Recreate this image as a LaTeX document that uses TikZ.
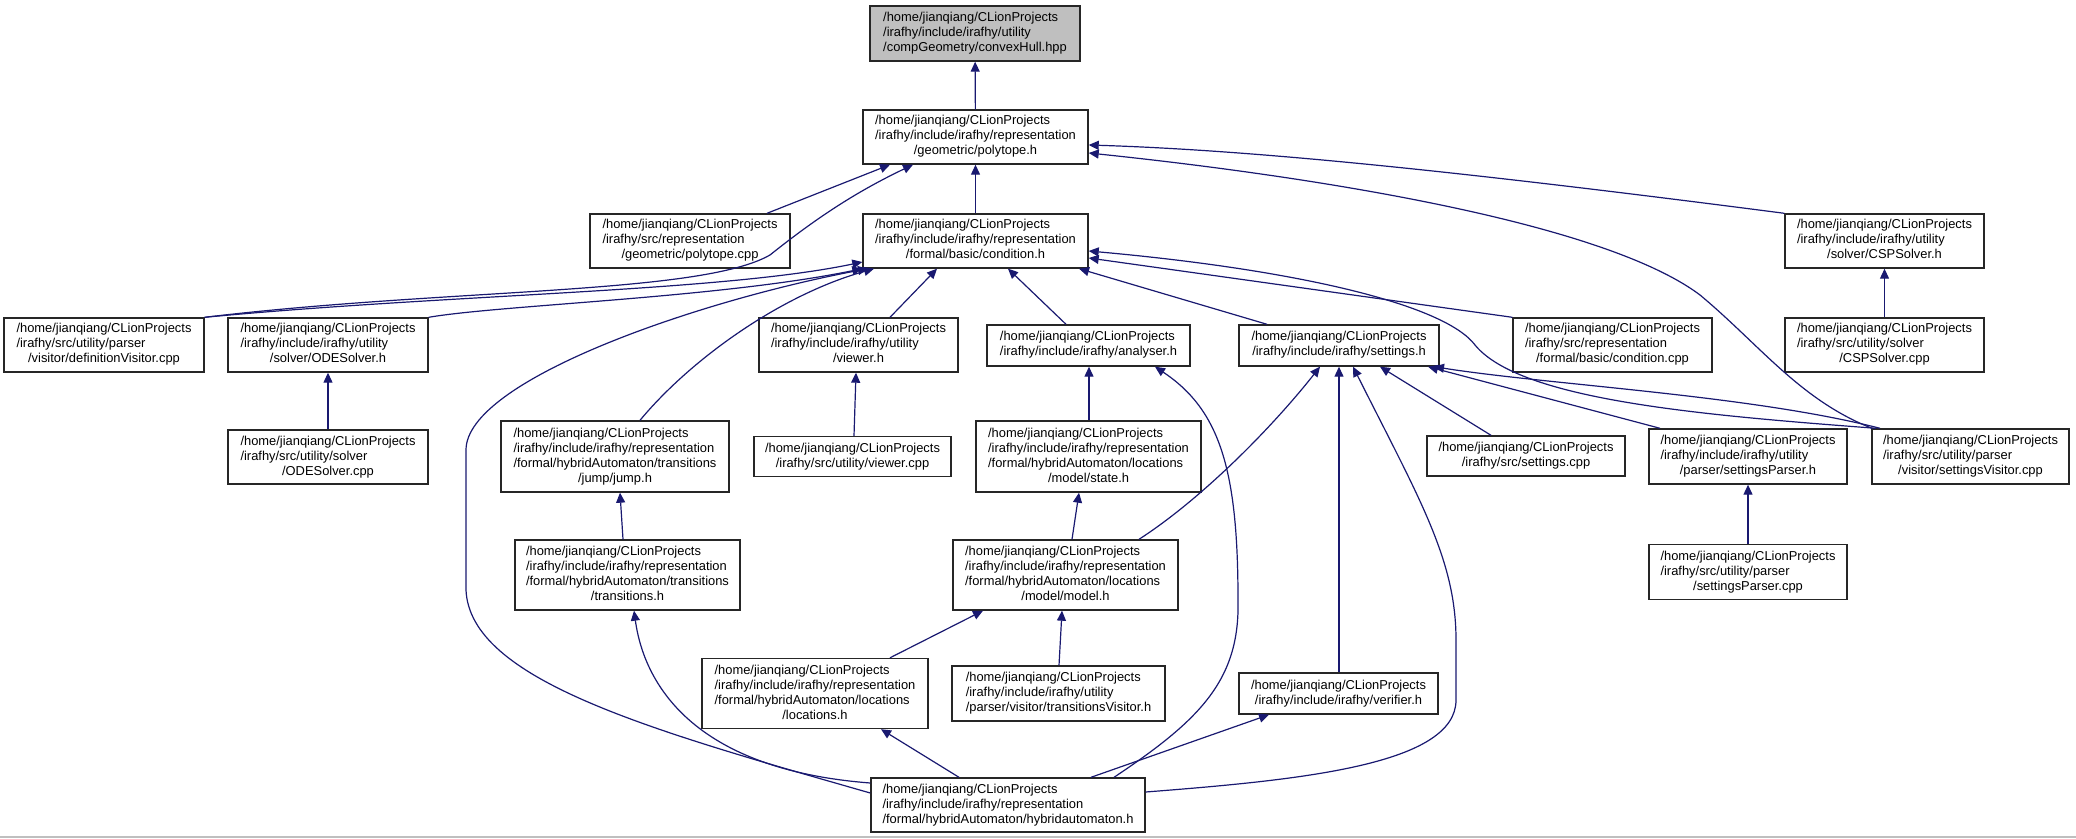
\documentclass[tikz,border=0pt]{standalone}
\usepackage{fontspec}
\setmainfont{Liberation Sans}
\usetikzlibrary{arrows.meta,positioning}

\definecolor{depblue}{RGB}{25,25,112}
\newcommand{\fpath}[2]{\begin{tabular}{@{}l@{}}#1\\\multicolumn{1}{@{}c@{}}{#2}\end{tabular}}

\begin{document}
\begin{tikzpicture}[
    x=0.5pt, y=-0.5pt,
    file/.style={draw=black!85, fill=white, rectangle, line width=0.7pt, inner sep=0pt,
        minimum width=100pt, minimum height=27pt, font=\fontsize{6.45}{7.5}\selectfont},
    sz/.style 2 args={minimum width=#1*0.5pt, minimum height=#2*0.5pt},
    dep/.style={{Triangle[length=5pt,width=4.5pt]}-, draw=depblue, line width=0.6pt}
]
\useasboundingbox (0,0) rectangle (2076,839);

% Included file
\node[file, sz={210}{55}, fill=black!25] (hull) at (975,33.5) {\fpath{/home/jianqiang/CLionProjects\\/irafhy/include/irafhy/utility}{/compGeometry/convexHull.hpp}};

% Row 1
\node[file, sz={225}{54}] (polyh) at (975.5,137) {\fpath{/home/jianqiang/CLionProjects\\/irafhy/include/irafhy/representation}{/geometric/polytope.h}};

% Row 2
\node[file] (polycpp) at (690,241) {\fpath{/home/jianqiang/CLionProjects\\/irafhy/src/representation}{/geometric/polytope.cpp}};
\node[file, sz={225}{54}] (condh) at (975.5,241) {\fpath{/home/jianqiang/CLionProjects\\/irafhy/include/irafhy/representation}{/formal/basic/condition.h}};
\node[file, sz={199}{54}] (cspH) at (1884.5,241) {\fpath{/home/jianqiang/CLionProjects\\/irafhy/include/irafhy/utility}{/solver/CSPSolver.h}};

% Row 3
\node[file] (defvis) at (104,345) {\fpath{/home/jianqiang/CLionProjects\\/irafhy/src/utility/parser}{/visitor/definitionVisitor.cpp}};
\node[file] (odeH) at (328,345) {\fpath{/home/jianqiang/CLionProjects\\/irafhy/include/irafhy/utility}{/solver/ODESolver.h}};
\node[file, sz={199}{54}] (viewH) at (858.5,345) {\fpath{/home/jianqiang/CLionProjects\\/irafhy/include/irafhy/utility}{/viewer.h}};
\node[file, sz={203}{41}] (analyser) at (1088.5,345.5) {\fpath{/home/jianqiang/CLionProjects}{/irafhy/include/irafhy/analyser.h}};
\node[file, sz={200}{41}] (setH) at (1339,345.5) {\fpath{/home/jianqiang/CLionProjects}{/irafhy/include/irafhy/settings.h}};
\node[file, sz={199}{54}] (condcpp) at (1612.5,345) {\fpath{/home/jianqiang/CLionProjects\\/irafhy/src/representation}{/formal/basic/condition.cpp}};
\node[file, sz={199}{54}] (cspcpp) at (1884.5,345) {\fpath{/home/jianqiang/CLionProjects\\/irafhy/src/utility/solver}{/CSPSolver.cpp}};

% Row 4
\node[file] (odecpp) at (328,457) {\fpath{/home/jianqiang/CLionProjects\\/irafhy/src/utility/solver}{/ODESolver.cpp}};
\node[file, sz={228}{71}] (jump) at (615,456.5) {\fpath{/home/jianqiang/CLionProjects\\/irafhy/include/irafhy/representation\\/formal/hybridAutomaton/transitions}{/jump/jump.h}};
\node[file, sz={197}{40}] (viewcpp) at (852.5,456.5) {\fpath{/home/jianqiang/CLionProjects}{/irafhy/src/utility/viewer.cpp}};
\node[file, sz={225}{71}] (state) at (1088.5,456.5) {\fpath{/home/jianqiang/CLionProjects\\/irafhy/include/irafhy/representation\\/formal/hybridAutomaton/locations}{/model/state.h}};
\node[file, sz={198}{40}] (setcpp) at (1526,456) {\fpath{/home/jianqiang/CLionProjects}{/irafhy/src/settings.cpp}};
\node[file, sz={198}{55}] (sparserH) at (1748,456.5) {\fpath{/home/jianqiang/CLionProjects\\/irafhy/include/irafhy/utility}{/parser/settingsParser.h}};
\node[file, sz={197}{55}] (svis) at (1970.5,456.5) {\fpath{/home/jianqiang/CLionProjects\\/irafhy/src/utility/parser}{/visitor/settingsVisitor.cpp}};

% Row 5
\node[file, sz={225}{70}] (trans) at (627.5,575) {\fpath{/home/jianqiang/CLionProjects\\/irafhy/include/irafhy/representation\\/formal/hybridAutomaton/transitions}{/transitions.h}};
\node[file, sz={225}{70}] (model) at (1065.5,575) {\fpath{/home/jianqiang/CLionProjects\\/irafhy/include/irafhy/representation\\/formal/hybridAutomaton/locations}{/model/model.h}};
\node[file, sz={198}{55}] (sparsercpp) at (1748,572) {\fpath{/home/jianqiang/CLionProjects\\/irafhy/src/utility/parser}{/settingsParser.cpp}};

% Row 6
\node[file, sz={226}{70}] (locs) at (815,693.5) {\fpath{/home/jianqiang/CLionProjects\\/irafhy/include/irafhy/representation\\/formal/hybridAutomaton/locations}{/locations.h}};
\node[file, sz={213}{55}] (tvis) at (1058.5,693.5) {\fpath{/home/jianqiang/CLionProjects\\/irafhy/include/irafhy/utility}{/parser/visitor/transitionsVisitor.h}};
\node[file, sz={199}{41}] (verif) at (1338.5,693.5) {\fpath{/home/jianqiang/CLionProjects}{/irafhy/include/irafhy/verifier.h}};

% Row 7
\node[file, sz={274}{54}] (ha) at (1008,805) {\fpath{/home/jianqiang/CLionProjects\\/irafhy/include/irafhy/representation}{/formal/hybridAutomaton/hybridautomaton.h}};

% Arrows into the top files
\draw[dep] (hull) -- (polyh);
\draw[dep] (polyh.south -| 890,0) -- (polycpp.north -| 767,0);
\draw[dep] (polyh) -- (condh);
\draw[dep] (polyh.east |- 0,145) .. controls (1250,150) and (1450,170) .. (cspH.north west);
\draw[dep] (polyh.south -| 913,0) .. controls (860,190) and (820,215) .. (770,255) .. controls (700,295) and (450,288) .. (defvis.north east);
\draw[dep] (polyh.east |- 0,153) .. controls (1300,175) and (1600,220) .. (1700,295) .. controls (1760,345) and (1800,400) .. (svis.north -| 1872,0);

% Arrows into condition.h
\draw[dep] (condh.west |- 0,262) .. controls (720,292) and (450,294) .. (defvis.north east);
\draw[dep] (condh.south west) .. controls (720,298) and (500,305) .. (odeH.north east);
\draw[dep] (condh.south -| 874,0) .. controls (780,295) and (690,360) .. (jump.north -| 640,0);
\draw[dep] (condh.south -| 868,0) .. controls (700,300) and (466,380) .. (466,450) -- (466,590) .. controls (470,680) and (650,730) .. (ha.west |- 0,793);
\draw[dep] (condh.south -| 937,0) -- (viewH.north -| 890,0);
\draw[dep] (condh.south -| 1008,0) -- (analyser.north -| 1066,0);
\draw[dep] (condh.south -| 1079,0) -- (setH.north -| 1267,0);
\draw[dep] (condh.east |- 0,258) -- (condcpp.north west);
\draw[dep] (condh.east |- 0,251) .. controls (1300,270) and (1445,305) .. (1475,345) .. controls (1520,400) and (1700,415) .. (svis.north -| 1876,0);

% Arrows into settings.h
\draw[dep] (setH.south -| 1320,0) .. controls (1270,430) and (1200,500) .. (model.north -| 1139,0);
\draw[dep] (setH.south -| 1339,0) -- (verif.north -| 1339,0);
\draw[dep] (setH.south -| 1353,0) .. controls (1420,500) and (1456,560) .. (1456,640) -- (1456,700) .. controls (1456,765) and (1300,780) .. (ha.east |- 0,792);
\draw[dep] (setH.south -| 1380,0) -- (setcpp.north -| 1491,0);
\draw[dep] (setH.south -| 1428,0) -- (sparserH.north -| 1660,0);
\draw[dep] (setH.south -| 1434,0) .. controls (1550,385) and (1750,395) .. (svis.north -| 1880,0);

% Remaining arrows
\draw[dep] (cspH) -- (cspcpp);
\draw[dep] (odeH) -- (odecpp);
\draw[dep] (viewH.south -| 856,0) -- (viewcpp.north -| 854,0);
\draw[dep] (analyser.south -| 1089,0) -- (state.north -| 1089,0);
\draw[dep] (analyser.south -| 1155,0) .. controls (1220,410) and (1238,470) .. (1238,600) .. controls (1240,680) and (1200,720) .. (ha.north -| 1114,0);
\draw[dep] (jump.south -| 620,0) -- (trans.north -| 623,0);
\draw[dep] (state.south -| 1079,0) -- (model.north -| 1072,0);
\draw[dep] (model.south -| 983,0) -- (locs.north -| 890,0);
\draw[dep] (model.south -| 1062,0) -- (tvis.north -| 1059,0);
\draw[dep] (sparserH) -- (sparsercpp);
\draw[dep] (trans.south -| 634,0) .. controls (645,690) and (700,770) .. (ha.west |- 0,783);
\draw[dep] (locs.south -| 881,0) -- (ha.north -| 959,0);
\draw[dep] (verif.south -| 1269,0) -- (ha.north -| 1091,0);

% Bottom rule
\draw[black!25, line width=1pt] (0,837) -- (2076,837);
\end{tikzpicture}
\end{document}
